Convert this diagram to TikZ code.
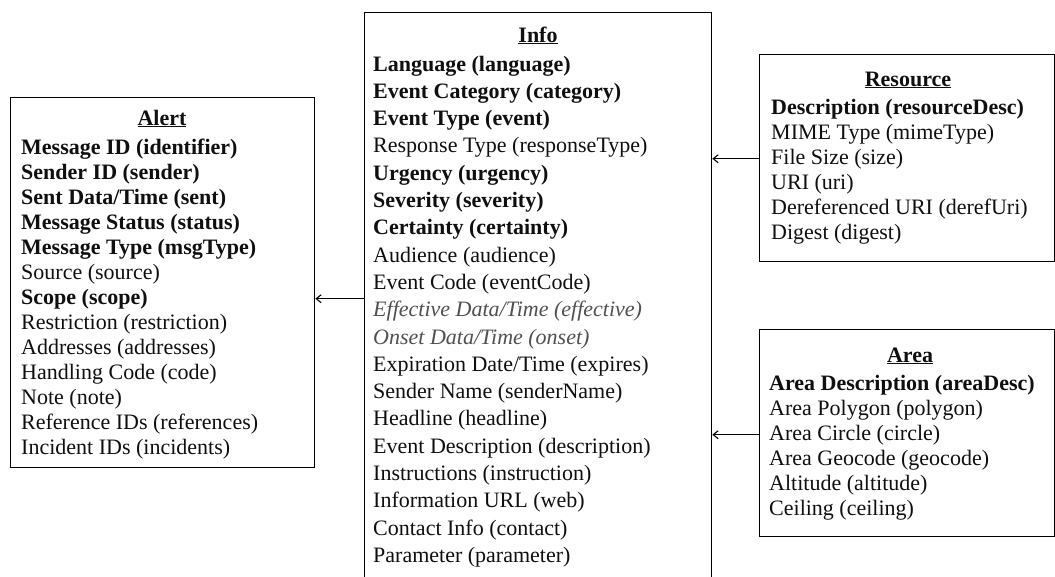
\documentclass[tikz,border=0pt]{standalone}
\usepackage{fontspec}
\setmainfont{LiberationSerif}[Extension=.ttf, UprightFont=*-Regular, BoldFont=*-Bold, ItalicFont=*-Italic, BoldItalicFont=*-BoldItalic]
\usetikzlibrary{arrows.meta}
\definecolor{txt}{RGB}{15,15,15}
\definecolor{itl}{RGB}{80,80,80}
\begin{document}
\begin{tikzpicture}[x=1pt,y=-1pt,
  box/.style={draw, line width=1.3pt, inner sep=0pt, anchor=north west},
  row/.style={anchor=base west, inner sep=0pt, text=txt, font=\rmfamily\fontsize{22}{25}\selectfont},
  brow/.style={row, font=\rmfamily\fontsize{22}{25}\selectfont\bfseries},
  irow/.style={row, text=itl, font=\rmfamily\fontsize{22}{25}\selectfont\itshape},
  ttl/.style={anchor=base, inner sep=0pt, text=txt, font=\rmfamily\fontsize{22}{25}\selectfont\bfseries},
  arr/.style={-{Straight Barb[length=5pt,width=8pt]}, line width=1.1pt}]
\useasboundingbox (0,0) rectangle (1055,576);
\clip (0,0) rectangle (1055,576);
\fill[white] (0,0) rectangle (1055,576);

% boxes
\node[box, minimum width=304pt, minimum height=370pt] (alert) at (10,97) {};
\node[box, minimum width=347pt, minimum height=600pt] (info) at (364,12) {};
\node[box, minimum width=294.5pt, minimum height=207pt] (rsrc) at (759,54) {};
\node[box, minimum width=294.5pt, minimum height=207pt] (area) at (759,329) {};

% Alert
\node[ttl] (at) at (162,125) {\underline{Alert}};
\node[brow] (a1) at (21,154) {Message ID (identifier)};
\node[brow] (a2) at (21,179) {Sender ID (sender)};
\node[brow] (a3) at (21,204) {Sent Data/Time (sent)};
\node[brow] (a4) at (21,229) {Message Status (status)};
\node[brow] (a5) at (21,254) {Message Type (msgType)};
\node[row]  (a6) at (21,279) {Source (source)};
\node[brow] (a7) at (21,304) {Scope (scope)};
\node[row]  (a8) at (21,329) {Restriction (restriction)};
\node[row]  (a9) at (21,354) {Addresses (addresses)};
\node[row]  (a10) at (21,379) {Handling Code (code)};
\node[row]  (a11) at (21,404) {Note (note)};
\node[row]  (a12) at (21,429) {Reference IDs (references)};
\node[row]  (a13) at (21,454) {Incident IDs (incidents)};

% Info
\node[ttl] (it) at (538,42) {\underline{Info}};
\node[brow] (i1) at (373,71.0) {Language (language)};
\node[brow] (i2) at (373,98.3) {Event Category (category)};
\node[brow] (i3) at (373,125.6) {Event Type (event)};
\node[row]  (i4) at (373,152.9) {Response Type (responseType)};
\node[brow] (i5) at (373,180.2) {Urgency (urgency)};
\node[brow] (i6) at (373,207.5) {Severity (severity)};
\node[brow] (i7) at (373,234.8) {Certainty (certainty)};
\node[row]  (i8) at (373,262.1) {Audience (audience)};
\node[row]  (i9) at (373,289.4) {Event Code (eventCode)};
\node[irow] (i10) at (373,316.7) {Effective Data/Time (effective)};
\node[irow] (i11) at (373,344.0) {Onset Data/Time (onset)};
\node[row]  (i12) at (373,371.3) {Expiration Date/Time (expires)};
\node[row]  (i13) at (373,398.6) {Sender Name (senderName)};
\node[row]  (i14) at (373,425.9) {Headline (headline)};
\node[row]  (i15) at (373,453.2) {Event Description (description)};
\node[row]  (i16) at (373,480.5) {Instructions (instruction)};
\node[row]  (i17) at (373,507.8) {Information URL (web)};
\node[row]  (i18) at (373,535.1) {Contact Info (contact)};
\node[row]  (i19) at (373,562.4) {Parameter (parameter)};

% Resource
\node[ttl] (rt) at (908,86) {\underline{Resource}};
\node[brow] (r1) at (771,114) {Description (resourceDesc)};
\node[row]  (r2) at (771,139) {MIME Type (mimeType)};
\node[row]  (r3) at (771,164) {File Size (size)};
\node[row]  (r4) at (771,189) {URI (uri)};
\node[row]  (r5) at (771,214) {Dereferenced URI (derefUri)};
\node[row]  (r6) at (771,239) {Digest (digest)};

% Area
\node[ttl] (gt) at (910,362) {\underline{Area}};
\node[brow] (g1) at (769,390) {Area Description (areaDesc)};
\node[row]  (g2) at (769,415) {Area Polygon (polygon)};
\node[row]  (g3) at (769,440) {Area Circle (circle)};
\node[row]  (g4) at (769,465) {Area Geocode (geocode)};
\node[row]  (g5) at (769,490) {Altitude (altitude)};
\node[row]  (g6) at (769,515) {Ceiling (ceiling)};

% connectors
\draw[arr] (info.west |- a7.west) -- (alert.east |- a7.west);
\draw[arr] (rsrc.west |- r3.west) -- (info.east |- r3.west);
\draw[arr] (area.west |- g3.west) -- (info.east |- g3.west);
\end{tikzpicture}
\end{document}
